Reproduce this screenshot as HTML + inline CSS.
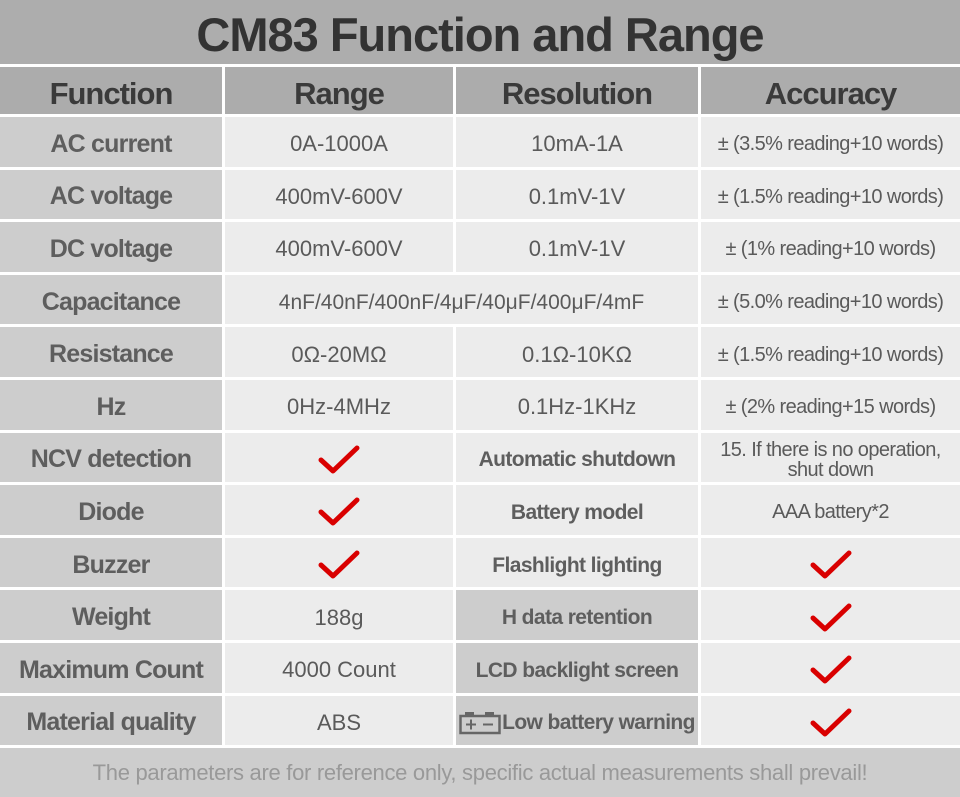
<!DOCTYPE html>
<html><head><meta charset="utf-8"><style>
html,body{margin:0;padding:0;background:#fff;}
.g{width:960px;height:797px;display:grid;grid-template-columns:222px 228px 242px 259px;grid-template-rows:64px 47px repeat(12,49.6px) 49px;gap:3px;background:#fff;font-family:"Liberation Sans",sans-serif;overflow:hidden;}
.g>div{display:flex;align-items:center;justify-content:center;text-align:center;background:#ececec;color:#5a5a5a;font-size:22px;line-height:1;padding-top:5px;box-sizing:border-box;}
.t{grid-column:1/5;background:#adadad!important;color:#333!important;font-weight:bold;font-size:47px!important;letter-spacing:-1px;padding-top:4px!important;}
.h{background:#acacac!important;color:#3a3a3a!important;font-weight:bold;font-size:31px!important;letter-spacing:-1px;padding-top:6px;}
.f{background:#cdcdcd!important;font-weight:bold;font-size:25px!important;color:#5e5e5e!important;letter-spacing:-0.8px;}
.b{font-weight:bold;font-size:21px!important;color:#5e5e5e!important;letter-spacing:-0.6px;}
.d{background:#cdcdcd!important;}
.a{font-size:20px!important;letter-spacing:-0.6px;}
.ft{grid-column:1/5;background:#cdcdcd!important;color:#999!important;font-size:22px!important;letter-spacing:-0.3px;padding-top:0!important;}
svg{display:block}
</style></head><body>
<div class="g">
<div class="t">CM83 Function and Range</div>
<div class="h">Function</div><div class="h">Range</div><div class="h">Resolution</div><div class="h">Accuracy</div>

<div class="f">AC current</div><div>0A-1000A</div><div>10mA-1A</div><div class="a">± (3.5% reading+10 words)</div>
<div class="f">AC voltage</div><div>400mV-600V</div><div>0.1mV-1V</div><div class="a">± (1.5% reading+10 words)</div>
<div class="f">DC voltage</div><div>400mV-600V</div><div>0.1mV-1V</div><div class="a">± (1% reading+10 words)</div>
<div class="f">Capacitance</div><div style="grid-column:2/4;font-size:21px;">4nF/40nF/400nF/4μF/40μF/400μF/4mF</div><div class="a">± (5.0% reading+10 words)</div>
<div class="f">Resistance</div><div>0Ω-20MΩ</div><div>0.1Ω-10KΩ</div><div class="a">± (1.5% reading+10 words)</div>
<div class="f">Hz</div><div>0Hz-4MHz</div><div>0.1Hz-1KHz</div><div class="a">± (2% reading+15 words)</div>
<div class="f">NCV detection</div><div><svg width="44" height="32"><polyline points="4,16 16,27 40,4" fill="none" stroke="#d90000" stroke-width="5" stroke-linecap="round" stroke-linejoin="round"/></svg></div><div class="b">Automatic shutdown</div><div class="a" style="flex-direction:column;">15. If there is no operation,<br>shut down</div>
<div class="f">Diode</div><div><svg width="44" height="32"><polyline points="4,16 16,27 40,4" fill="none" stroke="#d90000" stroke-width="5" stroke-linecap="round" stroke-linejoin="round"/></svg></div><div class="b">Battery model</div><div class="a">AAA battery*2</div>
<div class="f">Buzzer</div><div><svg width="44" height="32"><polyline points="4,16 16,27 40,4" fill="none" stroke="#d90000" stroke-width="5" stroke-linecap="round" stroke-linejoin="round"/></svg></div><div class="b">Flashlight lighting</div><div><svg width="44" height="32"><polyline points="4,16 16,27 40,4" fill="none" stroke="#d90000" stroke-width="5" stroke-linecap="round" stroke-linejoin="round"/></svg></div>
<div class="f">Weight</div><div>188g</div><div class="b d">H data retention</div><div><svg width="44" height="32"><polyline points="4,16 16,27 40,4" fill="none" stroke="#d90000" stroke-width="5" stroke-linecap="round" stroke-linejoin="round"/></svg></div>
<div class="f">Maximum Count</div><div>4000 Count</div><div class="b d">LCD backlight screen</div><div><svg width="44" height="32"><polyline points="4,16 16,27 40,4" fill="none" stroke="#d90000" stroke-width="5" stroke-linecap="round" stroke-linejoin="round"/></svg></div>
<div class="f">Material quality</div><div>ABS</div><div class="b d"><svg width="42" height="24" style="margin-right:1px"><rect x="6" y="1" width="9" height="4" fill="#666"/><rect x="26" y="1" width="9" height="4" fill="#666"/><rect x="1.5" y="5" width="39" height="17" fill="none" stroke="#666" stroke-width="2.5"/><path d="M7 13.5h10M12 8.5v10M24 13.5h10" stroke="#666" stroke-width="2"/></svg>Low battery warning</div><div><svg width="44" height="32"><polyline points="4,16 16,27 40,4" fill="none" stroke="#d90000" stroke-width="5" stroke-linecap="round" stroke-linejoin="round"/></svg></div>

<div class="ft">The parameters are for reference only, specific actual measurements shall prevail!</div>
</div>
</body></html>
